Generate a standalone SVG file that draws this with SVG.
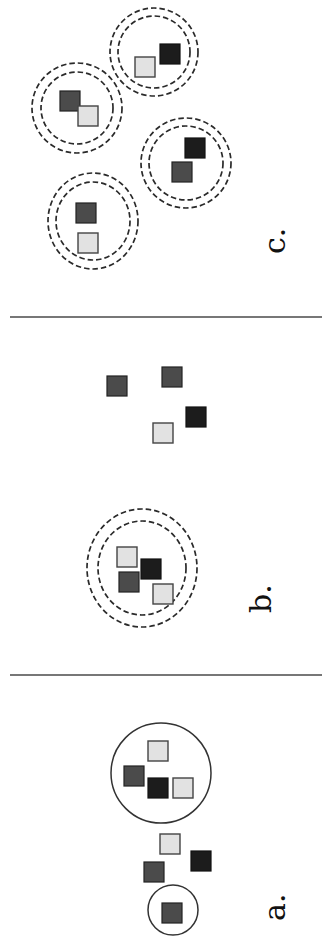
<svg xmlns="http://www.w3.org/2000/svg" width="322" height="940" viewBox="0 0 322 940">
<style>
.bk{fill:#1c1c1c;stroke:#111;stroke-width:1.2}
.dk{fill:#4b4b4b;stroke:#222;stroke-width:1.2}
.lt{fill:#e2e2e2;stroke:#444;stroke-width:1.4}
.ds{fill:none;stroke:#2a2a2a;stroke-width:1.7;stroke-dasharray:5.5 3}
.sl{fill:none;stroke:#333;stroke-width:1.5}
.sep{stroke:#777;stroke-width:2}
.lbl{font-family:"DejaVu Serif","Liberation Serif",serif;font-size:30px;fill:#111}
</style>
<rect width="322" height="940" fill="#fff"/>
<g id="panel-c">
  <g id="c-cluster1">
    <circle class="ds" cx="154" cy="52" r="44"/>
    <circle class="ds" cx="154" cy="52" r="36"/>
    <rect class="lt" x="135" y="57" width="20" height="20"/>
    <rect class="bk" x="160" y="44" width="20" height="20"/>
  </g>
  <g id="c-cluster2">
    <circle class="ds" cx="77" cy="108" r="45"/>
    <circle class="ds" cx="77" cy="108" r="36"/>
    <rect class="dk" x="60" y="91" width="20" height="20"/>
    <rect class="lt" x="78" y="106" width="20" height="20"/>
  </g>
  <g id="c-cluster3">
    <circle class="ds" cx="186" cy="163" r="45"/>
    <circle class="ds" cx="186" cy="163" r="37"/>
    <rect class="bk" x="185" y="138" width="20" height="20"/>
    <rect class="dk" x="172" y="162" width="20" height="20"/>
  </g>
  <g id="c-cluster4">
    <ellipse class="ds" cx="93" cy="221" rx="45" ry="48"/>
    <ellipse class="ds" cx="93" cy="221" rx="37" ry="39"/>
    <rect class="dk" x="76" y="203" width="20" height="20"/>
    <rect class="lt" x="78" y="233" width="20" height="20"/>
  </g>
  <text id="label-c" class="lbl" transform="translate(285 254) rotate(-90)">c.</text>
</g>
<g id="separators">
  <line class="sep" x1="10" y1="317" x2="322" y2="317"/>
  <line class="sep" x1="10" y1="675" x2="322" y2="675"/>
</g>
<g id="panel-b">
  <g id="b-free">
    <rect class="dk" x="107" y="376" width="20" height="20"/>
    <rect class="dk" x="162" y="367" width="20" height="20"/>
    <rect class="bk" x="186" y="407" width="20" height="20"/>
    <rect class="lt" x="153" y="423" width="20" height="20"/>
  </g>
  <g id="b-cluster">
    <ellipse class="ds" cx="142" cy="568" rx="55" ry="59"/>
    <ellipse class="ds" cx="142" cy="568" rx="44" ry="47"/>
    <rect class="lt" x="117" y="547" width="20" height="20"/>
    <rect class="bk" x="141" y="559" width="20" height="20"/>
    <rect class="dk" x="119" y="572" width="20" height="20"/>
    <rect class="lt" x="153" y="584" width="20" height="20"/>
  </g>
  <text id="label-b" class="lbl" transform="translate(271 613) rotate(-90)">b.</text>
</g>
<g id="panel-a">
  <g id="a-cluster">
    <circle class="sl" cx="161" cy="773" r="50"/>
    <rect class="lt" x="148" y="741" width="20" height="20"/>
    <rect class="dk" x="124" y="766" width="20" height="20"/>
    <rect class="bk" x="148" y="778" width="20" height="20"/>
    <rect class="lt" x="173" y="778" width="20" height="20"/>
  </g>
  <g id="a-free">
    <rect class="lt" x="160" y="834" width="20" height="20"/>
    <rect class="bk" x="191" y="851" width="20" height="20"/>
    <rect class="dk" x="144" y="862" width="20" height="20"/>
  </g>
  <g id="a-single">
    <circle class="sl" cx="173" cy="910" r="25"/>
    <rect class="dk" x="162" y="903" width="20" height="20"/>
  </g>
  <text id="label-a" class="lbl" transform="translate(285 921) rotate(-90)">a.</text>
</g>
</svg>
